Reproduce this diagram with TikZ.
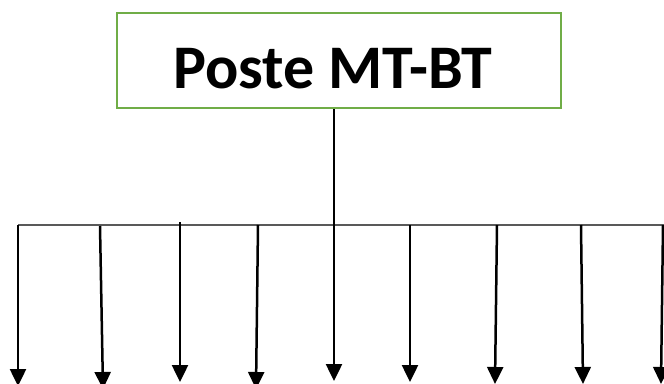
\documentclass[tikz,border=0pt]{standalone}
\usepackage{fontspec}
\setmainfont{Carlito}
\usetikzlibrary{arrows.meta}
\definecolor{boxgreen}{HTML}{70AD47}
\definecolor{busgray}{HTML}{595959}
\begin{document}
\begin{tikzpicture}[x=1pt,y=-1pt,
  box/.style={draw=boxgreen,line width=2.4pt,minimum width=444pt,minimum height=95pt,inner sep=0pt},
  title/.style={inner sep=0pt,anchor=base,font=\fontsize{62}{70}\selectfont\bfseries},
  bus/.style={draw=busgray,line width=1.7pt},
  feeder/.style={draw=black,line width=2.5pt,-{Triangle[length=17pt,width=16pt]}}]
\useasboundingbox (0,0) rectangle (664,383);
\node[box] (poste) at (339,60.5) {};
\node[title] (titre) at (333,88) {Poste MT-BT};
\coordinate (busL) at (18,225);
\coordinate (busR) at (666,225);
\draw[bus] (busL) -- (busR);
% feeder start and end points
\coordinate (s1) at (18,225);  \coordinate (e1) at (18,386);
\coordinate (s2) at (100,226); \coordinate (e2) at (103,389);
\coordinate (s3) at (180,222); \coordinate (e3) at (180,382);
\coordinate (s4) at (258,225); \coordinate (e4) at (256,389);
\coordinate (e5) at (334,381);
\coordinate (s6) at (410,225); \coordinate (e6) at (410,382);
\coordinate (s7) at (497,225); \coordinate (e7) at (495,384);
\coordinate (s8) at (581,225); \coordinate (e8) at (583,384);
\coordinate (s9) at (663,225); \coordinate (e9) at (661,384);
\draw[feeder] (s1) -- (e1);
\draw[feeder] (s2) -- (e2);
\draw[feeder] (s3) -- (e3);
\draw[feeder] (s4) -- (e4);
\draw[feeder] (poste.south -| e5) -- (e5);
\draw[feeder] (s6) -- (e6);
\draw[feeder] (s7) -- (e7);
\draw[feeder] (s8) -- (e8);
\draw[feeder] (s9) -- (e9);
\end{tikzpicture}
\end{document}
